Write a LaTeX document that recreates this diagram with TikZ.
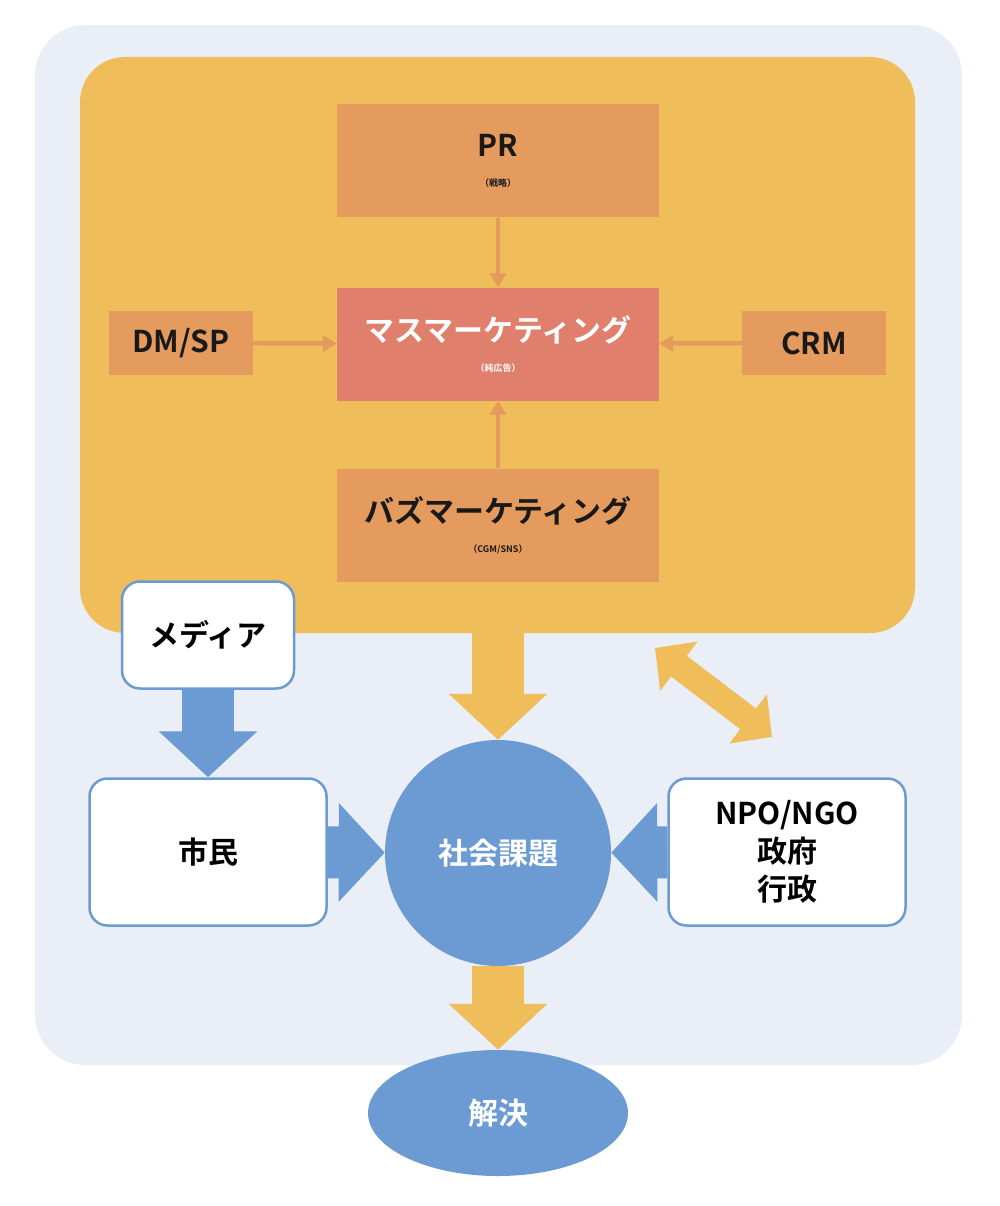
\documentclass[tikz,border=0pt]{standalone}
\usepackage{fontspec}
\setmainfont{Noto Sans CJK JP}[BoldFont={Noto Sans CJK JP Bold}]
\usetikzlibrary{arrows.meta,shapes.geometric}
\definecolor{bgblue}{HTML}{EAEEF7}
\definecolor{orgbg}{HTML}{EFBD5A}
\definecolor{boxorg}{HTML}{E69B5E}
\definecolor{boxred}{HTML}{DF7F6C}
\definecolor{myblue}{HTML}{6B9BD2}
\tikzset{
    box/.style={fill=boxorg, minimum width=322pt, minimum height=113pt, font=\bfseries\fontsize{30}{34}\selectfont, align=center, text=black!90},
    sidebox/.style={box, minimum width=144pt, minimum height=64pt},
    whitebox/.style={draw=myblue, line width=2.5pt, fill=white, rounded corners=18pt, font=\bfseries\fontsize{30}{38}\selectfont, align=center},
    thin/.style={boxorg, line width=4.5pt, -{Triangle[width=16pt,length=14pt]}},
    fat/.style={line width=52pt, -{Triangle[width=96pt,length=46pt]}},
    small/.style={font=\bfseries\fontsize{23}{26}\selectfont}
}
\begin{document}
\begin{tikzpicture}[x=1pt,y=-1pt]
    \useasboundingbox (0,0) rectangle (1000,1206);
    % Sfondi
    \fill[bgblue, rounded corners=50pt] (35,25) rectangle (962,1065);
    \fill[orgbg, rounded corners=45pt] (80,57) rectangle (915,633);

    % Riquadri arancio
    \node[box] (pr) at (498,161) {PR\\[-4pt]{\small（戦略）}};
    \node[box, fill=boxred, text=white] (mass) at (498,344) {マスマーケティング\\[-4pt]{\small（純広告）}};
    \node[box] (buzz) at (498,525) {バズマーケティング\\[-4pt]{\small（CGM/SNS）}};
    \node[sidebox] (dmsp) at (181,343) {DM/SP};
    \node[sidebox] (crm) at (814,343) {CRM};

    % Frecce sottili
    \draw[thin] (pr) -- (mass);
    \draw[thin] (buzz) -- (mass);
    \draw[thin] (dmsp) -- (mass);
    \draw[thin] (crm) -- (mass);

    % Riquadri bianchi
    \node[whitebox, minimum width=172pt, minimum height=107pt] (media) at (208,635) {メディア};
    \node[whitebox, minimum width=237pt, minimum height=147pt] (citizen) at (208,852) {市民};
    \node[whitebox, minimum width=237pt, minimum height=147pt] (npo) at (787,852) {NPO/NGO\\政府\\行政};

    % Cerchio ed ellisse
    \node[circle, fill=myblue, minimum size=226pt, text=white, font=\bfseries\fontsize{30}{34}\selectfont] (issue) at (498,853) {社会課題};
    \node[ellipse, fill=myblue, minimum width=260pt, minimum height=126pt, text=white, font=\bfseries\fontsize{30}{34}\selectfont] (solve) at (498,1113) {解決};

    % Frecce grosse
    \coordinate (orgbot) at (498,633);
    \draw[fat, orgbg] (orgbot) -- (issue.north);
    \draw[fat, orgbg] (issue.south) -- (solve.north);
    \draw[fat, myblue] (media) -- (citizen.north);
    \draw[fat, myblue] (citizen) -- (issue);
    \draw[fat, myblue] (npo) -- (issue);
    \coordinate (da) at (655,648);
    \coordinate (db) at (772,737);
    \draw[orgbg, line width=26pt, {Triangle[width=60pt,length=30pt]}-{Triangle[width=60pt,length=30pt]}] (da) -- (db);
\end{tikzpicture}
\end{document}
